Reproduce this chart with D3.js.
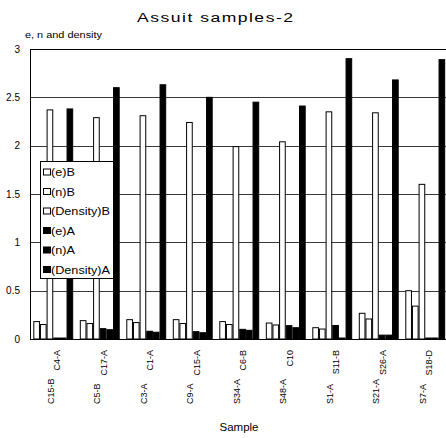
<!DOCTYPE html>
<html lang="en">
<head>
<meta charset="UTF-8">
<title>Assuit samples-2</title>
<script src="https://d3js.org/d3.v7.min.js"></script>
<style>
    body { margin: 0; background: #fff; }
    text { font-family: "Liberation Sans", Arial, sans-serif; fill: #000; }
</style>
</head>
<body>
<script>
    // sample pairs: first name (lower column) and second name (upper column)
    const labelFirst = ["C15-B", "C5-B", "C3-A", "C9-A", "S34-A", "S48-A", "S1-A", "S21-A", "S7-A"];
    const labelSecond = ["C4-A", "C17-A", "C1-A", "C15-A", "C6-B", "C10", "S11-B", "S26-A", "S18-D"];

    const seriesNames = ["(e)B", "(n)B", "(Density)B", "(e)A", "(n)A", "(Density)A"];
    const eB = [0.18, 0.19, 0.20, 0.20, 0.18, 0.165, 0.117, 0.266, 0.50];
    const nB = [0.15, 0.16, 0.17, 0.16, 0.15, 0.145, 0.103, 0.207, 0.34];
    const densB = [2.37, 2.29, 2.31, 2.24, 1.99, 2.04, 2.35, 2.34, 1.60];
    const eA = [0.01, 0.107, 0.08, 0.076, 0.10, 0.138, 0.14, 0.04, 0.01];
    const nA = [0.01, 0.096, 0.07, 0.065, 0.09, 0.117, 0.01, 0.04, 0.01];
    const densA = [2.38, 2.60, 2.63, 2.50, 2.45, 2.41, 2.90, 2.68, 2.89];

    const yTicks = [0, 0.5, 1, 1.5, 2, 2.5, 3];

    const seriesValues = [eB, nB, densB, eA, nA, densA];
    const seriesFill = ["#fff", "#fff", "#fff", "#000", "#000", "#000"];

    const width = 446, height = 438;
    const plotLeft = 30, plotTop = 49, plotBottom = 339, plotRight = 448.5;
    const stretch = 1.15; // the original text is a little wider than Arial

    const svg = d3.select("body").append("svg")
        .attr("width", width)
        .attr("height", height);

    const x = d3.scaleBand()
        .domain(d3.range(labelFirst.length))
        .range([plotLeft, plotRight])
        .paddingInner(0.142)
        .paddingOuter(0.071);

    const xs = d3.scaleBand()
        .domain(d3.range(seriesNames.length))
        .range([0, x.bandwidth()]);

    const y = d3.scaleLinear().domain([0, 3]).range([plotBottom, plotTop]);

    // title
    svg.append("text")
        .attr("transform", `translate(215,22) scale(1.3,1)`)
        .attr("text-anchor", "middle")
        .attr("textLength", 120)
        .attr("lengthAdjust", "spacing")
        .style("font-size", "13.5px")
        .text("Assuit samples-2");

    svg.append("text")
        .attr("transform", `translate(25,38) scale(${stretch},1)`)
        .style("font-size", "9.5px")
        .text("e, n and density");

    // gridlines
    svg.append("g")
        .selectAll("line")
        .data(yTicks.filter(d => d > 0))
        .enter()
        .append("line")
        .attr("x1", plotLeft)
        .attr("x2", width)
        .attr("y1", d => Math.round(y(d)) + 0.5)
        .attr("y2", d => Math.round(y(d)) + 0.5)
        .attr("stroke", d => d === 3 ? "#000" : "#3a3a3a")
        .attr("stroke-width", 1);

    // y tick labels
    const yAxis = svg.append("g")
        .attr("transform", `translate(${plotLeft},0)`)
        .call(d3.axisLeft(y).tickValues(yTicks).tickSize(0).tickPadding(10).tickFormat(d3.format("")));
    yAxis.select(".domain").remove();
    yAxis.selectAll("text")
        .style("font-size", "10px")
        .style("font-family", "'Liberation Sans', Arial, sans-serif");

    // bars
    const groups = svg.append("g")
        .selectAll("g")
        .data(d3.range(labelFirst.length))
        .enter()
        .append("g")
        .attr("transform", i => `translate(${x(i)},0)`);

    groups.selectAll("rect")
        .data(i => seriesValues.map((s, k) => ({ k: k, v: s[i] })))
        .enter()
        .append("rect")
        .attr("x", d => xs(d.k) + 0.5)
        .attr("width", xs.bandwidth() - 1)
        .attr("y", d => y(d.v))
        .attr("height", d => y(0) - y(d.v))
        .attr("fill", d => seriesFill[d.k])
        .attr("stroke", "#000")
        .attr("stroke-width", 1);

    // axis lines
    svg.append("line")
        .attr("x1", plotLeft + 0.5).attr("x2", plotLeft + 0.5)
        .attr("y1", plotTop).attr("y2", plotBottom + 0.5)
        .attr("stroke", "#000");
    svg.append("line")
        .attr("x1", plotLeft).attr("x2", width)
        .attr("y1", plotBottom + 0.5).attr("y2", plotBottom + 0.5)
        .attr("stroke", "#000");

    // x labels, two staggered names per group
    const labelG = svg.append("g");
    labelFirst.forEach((name, i) => {
        const c = x(i) + x.bandwidth() / 2;
        labelG.append("text")
            .attr("transform", `translate(${c + 0.5},404) rotate(-90)`)
            .attr("text-anchor", "start")
            .style("font-size", "9px")
            .text(name);
        labelG.append("text")
            .attr("transform", `translate(${c + 7},350) rotate(-90)`)
            .attr("text-anchor", "end")
            .style("font-size", "9px")
            .text(labelSecond[i]);
    });

    svg.append("text")
        .attr("transform", `translate(239,431) scale(${stretch},1)`)
        .attr("text-anchor", "middle")
        .style("font-size", "10px")
        .text("Sample");

    // legend
    const legend = svg.append("g");
    legend.append("rect")
        .attr("x", 40.5).attr("y", 161.5)
        .attr("width", 73).attr("height", 117)
        .attr("fill", "#fff")
        .attr("stroke", "#000");

    const item = legend.selectAll(".item")
        .data(seriesNames)
        .enter()
        .append("g")
        .attr("class", "item")
        .attr("transform", (d, k) => `translate(0,${172 + k * 19.5})`);

    item.append("rect")
        .attr("x", 43.5).attr("y", -3)
        .attr("width", 7).attr("height", 6)
        .attr("fill", (d, k) => seriesFill[k])
        .attr("stroke", "#000");

    item.append("text")
        .attr("transform", `translate(51,4) scale(${stretch},1)`)
        .style("font-size", "11px")
        .text(d => d);
</script>
</body>
</html>
